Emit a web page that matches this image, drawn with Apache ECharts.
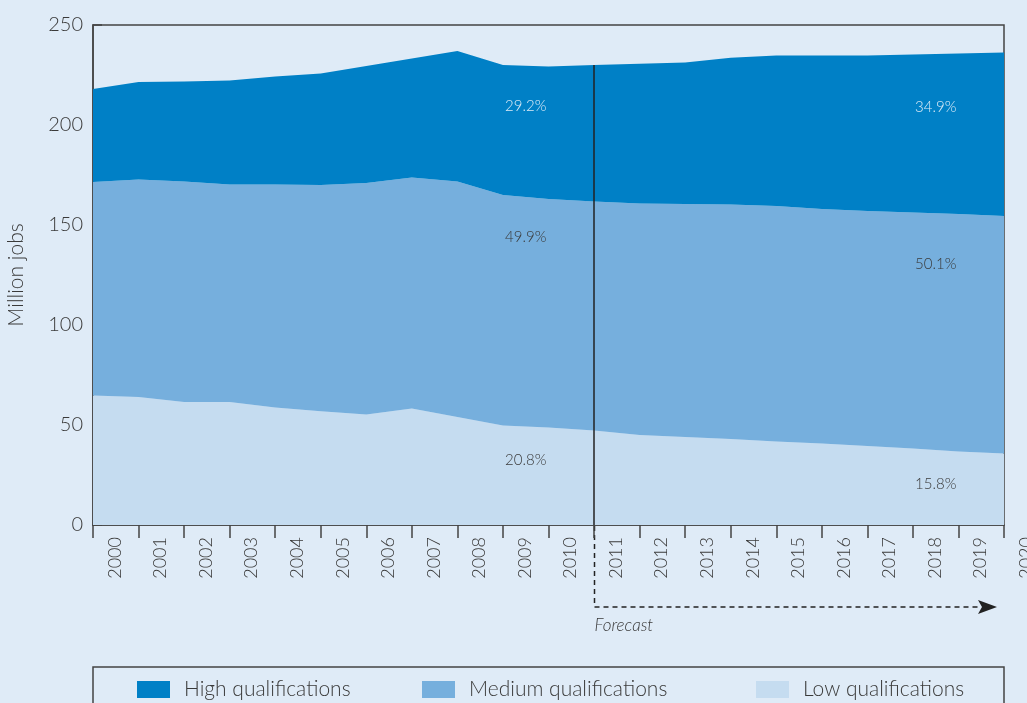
<!DOCTYPE html>
<html>
<head>
<meta charset="utf-8">
<script src="https://cdn.jsdelivr.net/npm/echarts@6/dist/echarts.min.js"></script>
<style>
html,body{margin:0;padding:0;background:#dfebf7;}
#chart{width:1027px;height:703px;}
</style>
</head>
<body>
<div id="chart"></div>
<script>
const years = ['2000','2001','2002','2003','2004','2005','2006','2007','2008','2009','2010','2011','2012','2013','2014','2015','2016','2017','2018','2019','2020'];
const lowQual    = [64.7,64.0,61.5,61.5,58.7,56.9,55.3,58.3,54.0,49.7,48.7,47.2,45.0,44.0,43.0,41.7,40.7,39.5,38.2,36.8,35.7];
const mediumQual = [106.8,108.7,110.2,108.8,111.5,113.1,115.7,115.5,117.8,115.3,114.3,114.6,115.8,116.5,117.2,117.8,117.3,117.5,118.1,118.7,118.8];
const highQual   = [46.5,48.8,50.1,52.0,54.1,55.8,58.5,59.5,65.2,65.0,66.3,68.2,69.8,70.7,73.4,75.3,76.7,77.8,78.9,80.2,81.7];
const seriesNames = ['Low qualifications','Medium qualifications','High qualifications'];
const yTicks = [0,50,100,150,200,250];
const forecastYear = 2011;
// share labels: [x-year, y-value, text]
const lowShares    = [[2009.5, 32.5, '20.8%'], [2018.5, 20.5, '15.8%']];
const mediumShares = [[2009.5, 144, '49.9%'], [2018.5, 130.5, '50.1%']];
const highShares   = [[2009.5, 209.5, '29.2%'], [2018.5, 209, '34.9%']];

const colors = {low:'#c5dcf0', medium:'#76afdd', high:'#0080c6', bg:'#dfebf7', ink:'#3a3a3a'};
const FONT = "Lato, 'Liberation Sans', Arial, sans-serif";

function areaSeries(name, vals, color){
  return {
    name:name, type:'line', stack:'total', data:vals,
    symbol:'none', smooth:false,
    lineStyle:{width:0, color:color},
    itemStyle:{color:color},
    areaStyle:{color:color, opacity:1},
    emphasis:{disabled:true}
  };
}
function shareData(list, color){
  return list.map(s=>({name:s[2], coord:[s[0], s[1]], label:{color:color}}));
}
const forecastIdx = years.indexOf(String(forecastYear));
const forecastTotal = lowQual[forecastIdx] + mediumQual[forecastIdx] + highQual[forecastIdx];

const chart = echarts.init(document.getElementById('chart'), null, {renderer:'canvas'});
const legendBase = (name, left) => ({
  data:[name], left:left, top:679, padding:0, itemWidth:33, itemHeight:17,
  icon:'rect', itemStyle:{borderWidth:0},
  textStyle:{fontSize:21, color:colors.ink, fontFamily:FONT, fontWeight:300, padding:[0,0,0,9]},
  selectedMode:false
});

const option = {
  backgroundColor: colors.bg,
  animation:false,
  textStyle:{fontFamily:FONT},
  grid:{left:93, right:23, top:25, bottom:178, containLabel:false, outerBoundsMode:'none',
        show:true, borderColor:'#444', borderWidth:1.5, backgroundColor:'transparent'},
  legend:[
    legendBase('High qualifications', 137),
    legendBase('Medium qualifications', 422),
    legendBase('Low qualifications', 756)
  ],
  xAxis:[{
    type:'category', data:years, boundaryGap:false,
    axisLine:{show:true, lineStyle:{color:'#444', width:1.5}},
    axisTick:{show:true, inside:false, length:13, interval:0, lineStyle:{color:'#444', width:1.5}},
    splitLine:{show:false},
    axisLabel:{interval:0, rotate:90, fontSize:18, color:colors.ink, fontFamily:FONT, fontWeight:300, margin:12,
      verticalAlign:'top', lineHeight:44, showMinLabel:true, showMaxLabel:true, hideOverlap:false}
  },{
    type:'value', min:Number(years[0]), max:Number(years[years.length-1]), show:false
  }],
  yAxis:{
    type:'value', min:yTicks[0], max:yTicks[yTicks.length-1], interval:50,
    name:'Million jobs', nameLocation:'middle', nameGap:66, nameRotate:90,
    nameTextStyle:{fontSize:21, color:colors.ink, fontFamily:FONT, fontWeight:300},
    axisLine:{show:true, lineStyle:{color:'#444', width:1.5}},
    axisTick:{show:true, inside:true, length:9, lineStyle:{color:'#444', width:1.5}},
    splitLine:{show:false},
    axisLabel:{fontSize:20, color:colors.ink, fontFamily:FONT, fontWeight:300, margin:10}
  },
  series:[
    areaSeries(seriesNames[0], lowQual, colors.low),
    areaSeries(seriesNames[1], mediumQual, colors.medium),
    areaSeries(seriesNames[2], highQual, colors.high),
    {
      name:'annotations', type:'line', xAxisIndex:1, yAxisIndex:0, data:[], symbol:'none',
      markPoint:{
        symbol:'circle', symbolSize:1, silent:true,
        itemStyle:{color:'rgba(0,0,0,0)'},
        label:{show:true, position:'inside', formatter:'{b}', fontSize:15, fontFamily:FONT, fontWeight:300},
        data:[].concat(shareData(lowShares, colors.ink), shareData(mediumShares, colors.ink), shareData(highShares, '#dcebf7'))
      },
      markLine:{
        silent:true, symbol:['none','none'],
        lineStyle:{color:'#222', width:1.5, type:'solid'},
        label:{show:false},
        data:[[{coord:[forecastYear, 0]}, {coord:[forecastYear, forecastTotal]}]]
      }
    }
  ]
};
chart.setOption(option);

// Forecast annotation below the axis, positioned from the axis scale
const p0 = chart.convertToPixel({xAxisIndex:1, yAxisIndex:0}, [forecastYear, 0]);
const pEnd = chart.convertToPixel({xAxisIndex:1, yAxisIndex:0}, [Number(years[years.length-1]), 0]);
const fx = Math.round(p0[0]) + 0.5;
const axisY = p0[1];
const lineY = axisY + 82;
const tipX = pEnd[0] - 7;
chart.setOption({
  graphic:[
    {type:'line', shape:{x1:fx, y1:axisY+1, x2:fx, y2:lineY}, style:{stroke:'#222', lineWidth:1.5, lineDash:[5,4]}, silent:true},
    {type:'line', shape:{x1:fx, y1:lineY, x2:tipX-16, y2:lineY}, style:{stroke:'#222', lineWidth:1.5, lineDash:[5,4]}, silent:true},
    {type:'polygon', shape:{points:[[tipX-19, lineY-7],[tipX, lineY],[tipX-19, lineY+7],[tipX-15, lineY]]}, style:{fill:'#222'}, silent:true},
    {type:'text', left:fx, top:lineY+10, style:{text:'Forecast', fontSize:17, fontStyle:'italic', fill:colors.ink, fontFamily:FONT, fontWeight:300}, silent:true},
    {type:'rect', shape:{x:93, y:667, width:911, height:60}, style:{fill:'none', stroke:'#444', lineWidth:1.5}, silent:true}
  ]
});
</script>
</body>
</html>
